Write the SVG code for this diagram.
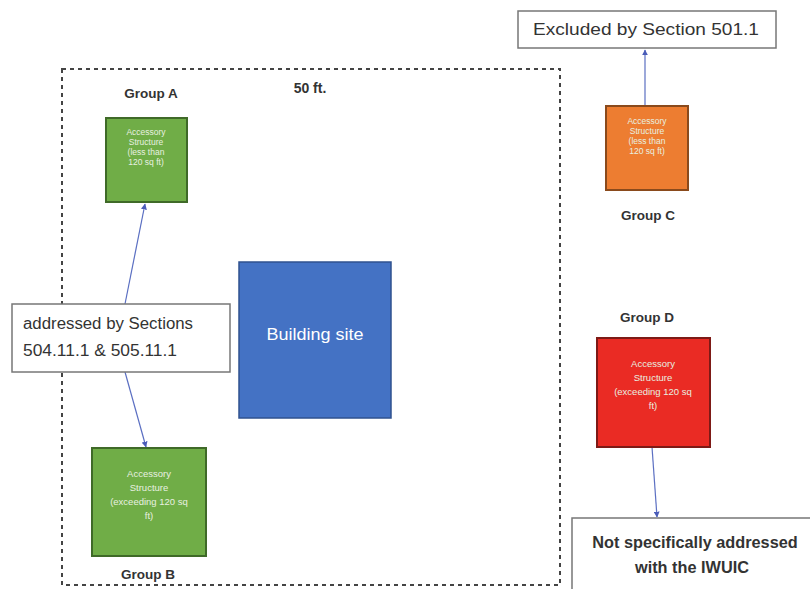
<svg xmlns="http://www.w3.org/2000/svg" width="810" height="589" viewBox="0 0 810 589">
<defs>
<style>
.lbl{font-family:"Liberation Sans",Arial,sans-serif;fill:#333}
.grp{font-family:"Liberation Sans",Arial,sans-serif;font-weight:bold;fill:#333;text-anchor:middle}
.small{font-family:"Liberation Sans",Arial,sans-serif;fill:#e8f0e0;text-anchor:middle}
.box{fill:#fff;stroke:#777;stroke-width:1.5}
.conn{stroke:#5b6fc2;stroke-width:1.2;fill:none;marker-end:url(#ah)}
</style>
<marker id="ah" viewBox="0 0 10 10" refX="9" refY="5" markerWidth="5" markerHeight="5" orient="auto">
<path d="M0,0 L10,5 L0,10 z" fill="#4a5cb8"/>
</marker>
</defs>
<rect width="810" height="589" fill="#fff"/>
<g id="boundary">
<rect x="62" y="69" width="498" height="516" fill="none" stroke="#444" stroke-width="2" stroke-dasharray="4,4"/>
<text x="310" y="93" class="grp" font-size="14">50 ft.</text>
</g>
<g id="connectors">
<line class="conn" x1="125" y1="304" x2="145" y2="204"/>
<line class="conn" x1="125" y1="372" x2="146" y2="447"/>
<line class="conn" x1="645" y1="106" x2="645" y2="50"/>
<line class="conn" x1="652" y1="447" x2="657" y2="517"/>
</g>
<g id="groupA">
<text x="151" y="98" class="grp" font-size="13.5">Group A</text>
<rect x="106" y="118" width="81" height="84" fill="#70ad47" stroke="#3f6a28" stroke-width="2"/>
<text class="small" font-size="8.5"><tspan x="146" y="135">Accessory</tspan><tspan x="146" y="145">Structure</tspan><tspan x="146" y="155">(less than</tspan><tspan x="146" y="165">120 sq ft)</tspan></text>
</g>
<g id="groupB">
<rect x="92" y="448" width="114" height="108" fill="#70ad47" stroke="#3f6a28" stroke-width="2"/>
<text class="small" font-size="9.5"><tspan x="149" y="477">Accessory</tspan><tspan x="149" y="491">Structure</tspan><tspan x="149" y="505">(exceeding 120 sq</tspan><tspan x="149" y="519">ft)</tspan></text>
<text x="148" y="579" class="grp" font-size="13.5">Group B</text>
</g>
<g id="addressed">
<rect x="12" y="304" width="218" height="68" class="box"/>
<text class="lbl" font-size="16"><tspan x="23" y="329" textLength="170" lengthAdjust="spacingAndGlyphs">addressed by Sections</tspan><tspan x="23" y="356" textLength="154" lengthAdjust="spacingAndGlyphs">504.11.1 &amp; 505.11.1</tspan></text>
</g>
<g id="building">
<rect x="239" y="262" width="152" height="156" fill="#4472c4" stroke="#2f528f" stroke-width="1.5"/>
<text x="315" y="340" font-family="Liberation Sans,Arial,sans-serif" font-size="16" fill="#fff" text-anchor="middle" textLength="97" lengthAdjust="spacingAndGlyphs">Building site</text>
</g>
<g id="excluded">
<rect x="518" y="11" width="258" height="37" class="box"/>
<text x="533" y="35" class="lbl" font-size="17" textLength="226" lengthAdjust="spacingAndGlyphs">Excluded by Section 501.1</text>
</g>
<g id="groupC">
<rect x="606" y="106" width="82" height="84" fill="#ed7d31" stroke="#8a4a1c" stroke-width="2"/>
<text class="small" font-size="8.5" fill="#fde6d4"><tspan x="647" y="124">Accessory</tspan><tspan x="647" y="134">Structure</tspan><tspan x="647" y="144">(less than</tspan><tspan x="647" y="154">120 sq ft)</tspan></text>
<text x="648" y="220" class="grp" font-size="13.5">Group C</text>
</g>
<g id="groupD">
<text x="647" y="322" class="grp" font-size="13.5">Group D</text>
<rect x="597" y="338" width="113" height="109" fill="#ea2b24" stroke="#7d1a16" stroke-width="2"/>
<text class="small" font-size="9.5" fill="#fbd8d4"><tspan x="653" y="367">Accessory</tspan><tspan x="653" y="381">Structure</tspan><tspan x="653" y="395">(exceeding 120 sq</tspan><tspan x="653" y="409">ft)</tspan></text>
</g>
<g id="notaddressed">
<rect x="572" y="518" width="245" height="80" class="box"/>
<text class="lbl" font-size="16.3" font-weight="bold" text-anchor="middle"><tspan x="695" y="548">Not specifically addressed</tspan><tspan x="692" y="573">with the IWUIC</tspan></text>
</g>
</svg>
